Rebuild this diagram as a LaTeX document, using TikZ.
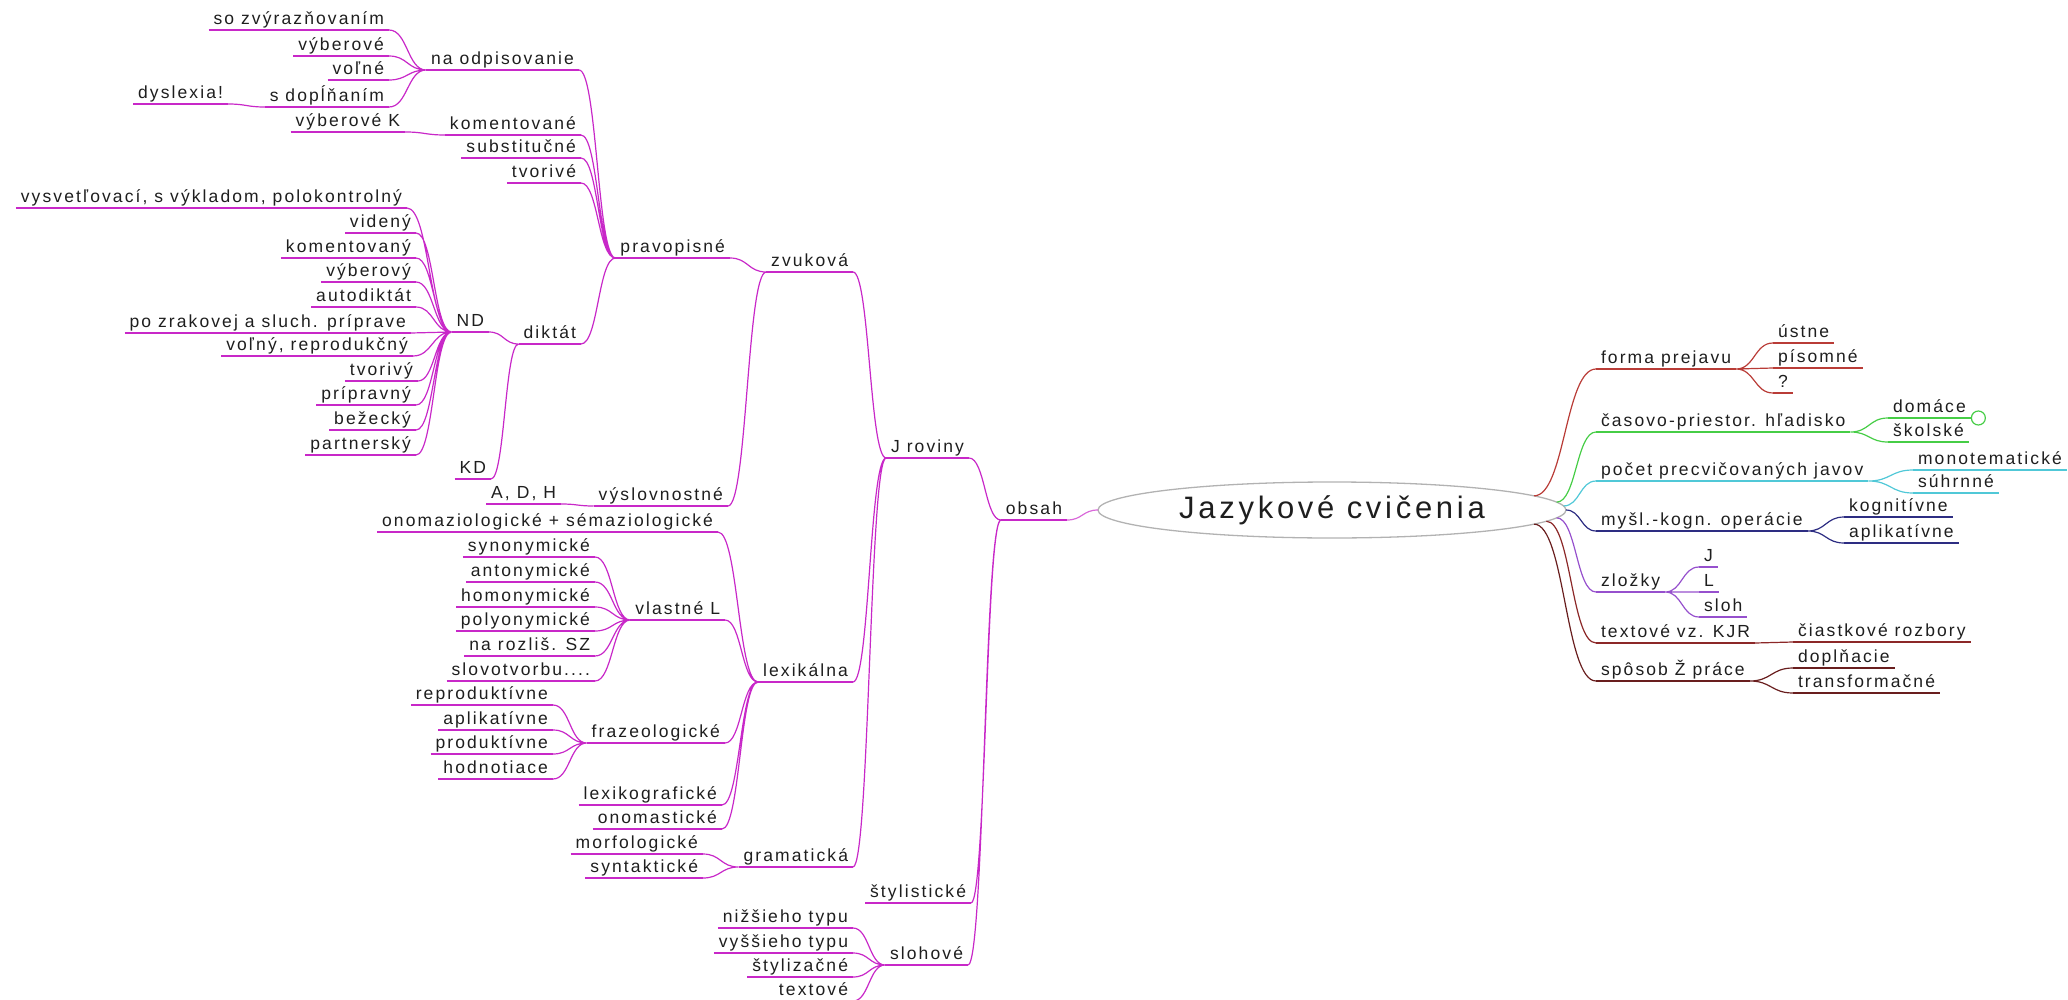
\documentclass[tikz,border=0pt]{standalone}
\usepackage{fontspec}
\usetikzlibrary{shapes.geometric,calc}
\newfontfamily\mmfont[LetterSpace=12]{Liberation Sans}
\definecolor{M}{RGB}{200, 40, 200}
\definecolor{RB}{RGB}{185, 60, 55}
\definecolor{GR}{RGB}{70, 205, 70}
\definecolor{CY}{RGB}{80, 200, 215}
\definecolor{NV}{RGB}{45, 45, 130}
\definecolor{PU}{RGB}{150, 80, 205}
\definecolor{DR}{RGB}{140, 40, 40}
\definecolor{BR}{RGB}{105, 30, 30}
\definecolor{ink}{RGB}{30, 30, 30}

\tikzset{
  mm/.style={font=\mmfont\fontsize{17.5}{20}\selectfont, text=ink, inner xsep=5pt, inner ysep=1.5pt,
    text height=12.5pt, text depth=4pt, outer sep=0pt,
    append after command={(\tikzlastnode.south west) edge[draw=#1, line width=1.1pt] (\tikzlastnode.south east)}},
  ln/.style={mm=#1, anchor=south east},
  rn/.style={mm=#1, anchor=south west},
  fork/.style={draw=#1, line width=1.2pt,
    to path={.. controls ($(\tikztostart)!0.5!(\tikztostart -| \tikztotarget)$) and ($(\tikztotarget)!0.5!(\tikztotarget -| \tikztostart)$) .. (\tikztotarget)}},
}

\begin{document}
\begin{tikzpicture}[x=1pt,y=-1pt]
  \useasboundingbox (0,0) rectangle (2068,1000);

  % stred
  \node[ellipse, draw=gray!60, line width=1.3pt, minimum width=468pt, minimum height=56pt,
        inner sep=0pt, outer sep=0pt, text=ink, font=\mmfont\fontsize{31}{36}\selectfont]
        (root) at (1332,510) {Jazykové cvičenia};

  % lava strana - obsah
  \node[ln=M] (obsah) at (1067,520) {obsah};
  \node[ln=M] (jrov) at (969,458) {J roviny};
  \node[ln=M] (styl) at (971,903) {štylistické};
  \node[ln=M] (sloh) at (968,965) {slohové};
  \node[ln=M] (zvuk) at (853,272) {zvuková};
  \node[ln=M] (lex) at (853,682) {lexikálna};
  \node[ln=M] (gram) at (853,867) {gramatická};
  \node[ln=M] (prav) at (730,258) {pravopisné};
  \node[ln=M] (vysl) at (728,506) {výslovnostné};
  \node[ln=M] (adh) at (561,504) {A, D, H};

  % pravopisne
  \node[ln=M] (odp) at (579,70) {na odpisovanie};
  \node[ln=M] (kom) at (581,135) {komentované};
  \node[ln=M] (subst) at (581,158) {substitučné};
  \node[ln=M] (tvor) at (581,183) {tvorivé};
  \node[ln=M] (dikt) at (581,344) {diktát};
  \node[ln=M] (zvyr) at (389,30) {so zvýrazňovaním};
  \node[ln=M] (vyb) at (389,56) {výberové};
  \node[ln=M] (voln) at (389,80) {voľné};
  \node[ln=M] (dopl) at (389,107) {s dopĺňaním};
  \node[ln=M] (dysl) at (228,104) {dyslexia!};
  \node[ln=M] (vybK) at (405,132) {výberové K};

  % diktat
  \node[ln=M] (nd) at (489,332) {ND};
  \node[ln=M] (kd) at (491,479) {KD};
  \node[ln=M] (vysv) at (407,208) {vysvetľovací, s výkladom, polokontrolný};
  \node[ln=M] (vid) at (416,233) {videný};
  \node[ln=M] (komy) at (416,258) {komentovaný};
  \node[ln=M] (vyby) at (416,282) {výberový};
  \node[ln=M] (auto) at (416,307) {autodiktát};
  \node[ln=M] (zrak) at (411,333) {po zrakovej a sluch. príprave};
  \node[ln=M] (volny) at (413,356) {voľný, reprodukčný};
  \node[ln=M] (tvory) at (418,381) {tvorivý};
  \node[ln=M] (prip) at (416,405) {prípravný};
  \node[ln=M] (bez) at (416,430) {bežecký};
  \node[ln=M] (part) at (416,455) {partnerský};

  % lexikalna
  \node[ln=M] (onsem) at (718,532) {onomaziologické + sémaziologické};
  \node[ln=M] (vlL) at (725,620) {vlastné L};
  \node[ln=M] (fraz) at (725,743) {frazeologické};
  \node[ln=M] (lexg) at (722,805) {lexikografické};
  \node[ln=M] (onom) at (722,829) {onomastické};
  \node[ln=M] (syn) at (595,557) {synonymické};
  \node[ln=M] (ant) at (595,582) {antonymické};
  \node[ln=M] (hom) at (595,607) {homonymické};
  \node[ln=M] (poly) at (595,631) {polyonymické};
  \node[ln=M] (rozl) at (595,656) {na rozliš. SZ};
  \node[ln=M] (slovo) at (595,681) {slovotvorbu....};
  \node[ln=M] (repr) at (553,705) {reproduktívne};
  \node[ln=M] (apl) at (553,730) {aplikatívne};
  \node[ln=M] (prod) at (553,754) {produktívne};
  \node[ln=M] (hodn) at (553,779) {hodnotiace};

  % gramaticka, slohove
  \node[ln=M] (morf) at (703,854) {morfologické};
  \node[ln=M] (synt) at (703,878) {syntaktické};
  \node[ln=M] (niz) at (853,928) {nižšieho typu};
  \node[ln=M] (vys) at (853,953) {vyššieho typu};
  \node[ln=M] (styz) at (853,977) {štylizačné};
  \node[ln=M] (textv) at (853,1001) {textové};

  % prava strana
  \node[rn=RB] (forma) at (1596,369) {forma prejavu};
  \node[rn=GR] (cas) at (1596,432) {časovo-priestor. hľadisko};
  \node[rn=CY] (pocet) at (1596,481) {počet precvičovaných javov};
  \node[rn=NV] (mysl) at (1596,531) {myšl.-kogn. operácie};
  \node[rn=PU] (zlozky) at (1596,592) {zložky};
  \node[rn=DR] (txt) at (1596,643) {textové vz. KJR};
  \node[rn=BR] (sposob) at (1596,681) {spôsob Ž práce};
  \node[rn=RB] (ustne) at (1773,343) {ústne};
  \node[rn=RB] (pis) at (1773,368) {písomné};
  \node[rn=RB] (otaz) at (1773,393) {?};
  \node[rn=GR] (dom) at (1888,418) {domáce};
  \node[rn=GR] (skol) at (1888,442) {školské};
  \node[rn=CY] (mono) at (1913,470) {monotematické};
  \node[rn=CY] (suhr) at (1913,493) {súhrnné};
  \node[rn=NV] (kogn) at (1844,517) {kognitívne};
  \node[rn=NV] (aplk) at (1844,543) {aplikatívne};
  \node[rn=PU] (jj) at (1699,567) {J};
  \node[rn=PU] (ll) at (1699,592) {L};
  \node[rn=PU] (slh) at (1699,617) {sloh};
  \node[rn=DR] (ciast) at (1793,642) {čiastkové rozbory};
  \node[rn=BR] (dopn) at (1793,668) {doplňacie};
  \node[rn=BR] (transf) at (1793,693) {transformačné};
  % zbaleny uzol
  \node[circle, draw=GR, line width=1.2pt, fill=white, minimum size=14pt, inner sep=0pt,
        anchor=west] (fold) at (dom.south east) {};

  % spojnice vlavo
  \draw[fork=M!70] (root.west) to (obsah.south east);
  \draw[fork=M] (obsah.south west) to (jrov.south east) (obsah.south west) to (styl.south east)
    (obsah.south west) to (sloh.south east);
  \draw[fork=M] (jrov.south west) to (zvuk.south east) (jrov.south west) to (lex.south east)
    (jrov.south west) to (gram.south east);
  \draw[fork=M] (zvuk.south west) to (prav.south east) (zvuk.south west) to (vysl.south east);
  \draw[fork=M] (vysl.south west) to (adh.south east);
  \draw[fork=M] (prav.south west) to (odp.south east) (prav.south west) to (kom.south east)
    (prav.south west) to (subst.south east) (prav.south west) to (tvor.south east)
    (prav.south west) to (dikt.south east);
  \draw[fork=M] (odp.south west) to (zvyr.south east) (odp.south west) to (vyb.south east)
    (odp.south west) to (voln.south east) (odp.south west) to (dopl.south east);
  \draw[fork=M] (dopl.south west) to (dysl.south east);
  \draw[fork=M] (kom.south west) to (vybK.south east);
  \draw[fork=M] (dikt.south west) to (nd.south east) (dikt.south west) to (kd.south east);
  \draw[fork=M] (nd.south west) to (vysv.south east) (nd.south west) to (vid.south east)
    (nd.south west) to (komy.south east) (nd.south west) to (vyby.south east)
    (nd.south west) to (auto.south east) (nd.south west) to (zrak.south east)
    (nd.south west) to (volny.south east) (nd.south west) to (tvory.south east)
    (nd.south west) to (prip.south east) (nd.south west) to (bez.south east)
    (nd.south west) to (part.south east);
  \draw[fork=M] (lex.south west) to (onsem.south east) (lex.south west) to (vlL.south east)
    (lex.south west) to (fraz.south east) (lex.south west) to (lexg.south east)
    (lex.south west) to (onom.south east);
  \draw[fork=M] (vlL.south west) to (syn.south east) (vlL.south west) to (ant.south east)
    (vlL.south west) to (hom.south east) (vlL.south west) to (poly.south east)
    (vlL.south west) to (rozl.south east) (vlL.south west) to (slovo.south east);
  \draw[fork=M] (fraz.south west) to (repr.south east) (fraz.south west) to (apl.south east)
    (fraz.south west) to (prod.south east) (fraz.south west) to (hodn.south east);
  \draw[fork=M] (gram.south west) to (morf.south east) (gram.south west) to (synt.south east);
  \draw[fork=M] (sloh.south west) to (niz.south east) (sloh.south west) to (vys.south east)
    (sloh.south west) to (styz.south east) (sloh.south west) to (textv.south east);

  % spojnice vpravo
  \draw[fork=RB] (root.4) to (forma.south west);
  \draw[fork=GR] (root.2.5) to (cas.south west);
  \draw[fork=CY] (root.1.2) to (pocet.south west);
  \draw[fork=NV] (root.east) to (mysl.south west);
  \draw[fork=PU] (root.-2) to (zlozky.south west);
  \draw[fork=DR] (root.-3.2) to (txt.south west);
  \draw[fork=BR] (root.-4.3) to (sposob.south west);
  \draw[fork=RB] (forma.south east) to (ustne.south west) (forma.south east) to (pis.south west)
    (forma.south east) to (otaz.south west);
  \draw[fork=GR] (cas.south east) to (dom.south west) (cas.south east) to (skol.south west);
  \draw[fork=CY] (pocet.south east) to (mono.south west) (pocet.south east) to (suhr.south west);
  \draw[fork=NV] (mysl.south east) to (kogn.south west) (mysl.south east) to (aplk.south west);
  \draw[fork=PU] (zlozky.south east) to (jj.south west) (zlozky.south east) to (ll.south west)
    (zlozky.south east) to (slh.south west);
  \draw[fork=DR] (txt.south east) to (ciast.south west);
  \draw[fork=BR] (sposob.south east) to (dopn.south west) (sposob.south east) to (transf.south west);
\end{tikzpicture}
\end{document}
